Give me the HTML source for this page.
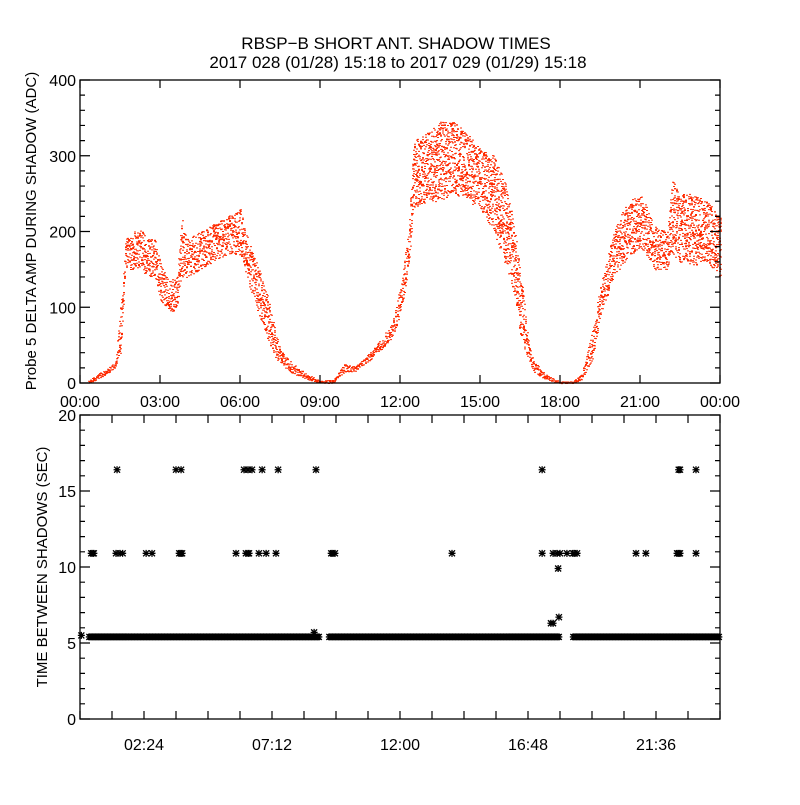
<!DOCTYPE html>
<html><head><meta charset="utf-8"><style>
html,body{margin:0;padding:0;background:#fff;}
svg text{font-family:"Liberation Sans",sans-serif;fill:#000;}
</style></head><body>
<svg id="c" width="800" height="800" xmlns="http://www.w3.org/2000/svg">
<rect width="800" height="800" fill="#fff"/>
<text x="396" y="49" font-size="17" text-anchor="middle">RBSP−B SHORT ANT. SHADOW TIMES</text>
<text x="398" y="68" font-size="17" text-anchor="middle">2017 028 (01/28) 15:18 to 2017 029 (01/29) 15:18</text>
<g id="topPanel"></g><g id="botPanel"></g>
</svg>
<script>
// ---- top panel data (envelope) ----
const ampHours=[0.3,0.5,1.0,1.3,1.5,1.7,2.0,2.3,2.5,2.8,3.0,3.3,3.6,3.8,4.0,4.5,5.0,5.5,6.0,6.2,6.5,7.0,7.3,7.5,8.0,8.5,9.0,9.5,9.9,10.3,10.7,11.3,11.7,12.0,12.3,12.5,13.0,13.5,14.0,14.5,15.0,15.5,16.0,16.3,16.5,16.8,17.0,17.5,18.0,18.5,18.8,19.2,19.5,20.0,20.5,21.0,21.3,21.5,22.0,22.2,22.5,23.0,23.5,24.0];
const ampLow=[0,3,12,20,40,150,150,150,140,140,110,95,95,140,140,150,160,170,170,140,110,60,35,25,12,5,0,0,15,15,25,45,60,90,150,230,240,240,250,240,230,200,150,110,60,30,15,3,0,0,5,30,90,140,165,180,165,150,150,170,160,155,160,140];
const ampHigh=[3,8,20,28,100,190,200,205,190,190,160,135,140,220,190,200,210,220,230,200,170,120,70,45,25,12,3,5,25,22,35,60,80,130,200,320,330,345,345,330,310,300,260,200,150,60,30,10,2,3,12,70,130,200,240,250,230,210,200,270,250,250,240,220];
const topTickLabels=["00:00","03:00","06:00","09:00","12:00","15:00","18:00","21:00","00:00"];
const topYTicks=[0,100,200,300,400];
// ---- bottom panel data ----
const t16=[1.39,3.6,3.79,6.15,6.3,6.45,6.83,7.43,8.85,17.33,22.45,22.5,23.1];
const t11=[0.42,0.48,0.52,1.35,1.5,1.6,2.48,2.7,3.72,3.78,3.83,5.85,6.22,6.3,6.34,6.71,6.98,7.35,9.42,9.48,9.56,13.95,17.33,17.74,17.89,18.0,18.26,18.49,18.55,18.64,20.85,21.22,22.39,22.45,22.5,23.1];
const oddT=[17.66,17.74,17.93,17.96,8.78,0.05];
const oddV=[6.3,6.3,9.9,6.7,5.7,5.5];
const bandStart=[0.35,9.35,18.5];
const bandEnd=[9.0,18.0,24.0];
const bandValue=5.4;
const botTickLabels=["02:24","07:12","12:00","16:48","21:36"];
const botYTicks=[0,5,10,15,20];

const NS="http://www.w3.org/2000/svg";
function mk(tag,attrs,parent){const e=document.createElementNS(NS,tag);for(const k in attrs)e.setAttribute(k,attrs[k]);parent.appendChild(e);return e;}
const L=80,R=720;
const xH=h=>L+(h/24)*(R-L);
const T0=80,T1=383;
const yA=v=>T1-(v/400)*(T1-T0);
const topG=document.getElementById('topPanel');
let seed=12345;function rnd(){seed=(Math.imul(seed,1664525)+1013904223)>>>0;return seed/4294967296;}
const dots=mk('g',{},topG);


function interp(arr,h){for(let i=0;i<ampHours.length-1;i++){if(h>=ampHours[i]&&h<=ampHours[i+1]){const f=(h-ampHours[i])/(ampHours[i+1]-ampHours[i]);return arr[i]+f*(arr[i+1]-arr[i]);}}return null;}
let path="";
for(let px=Math.ceil(xH(ampHours[0]));px<=xH(ampHours[ampHours.length-1]);px++){
  const h=(px-L)/(R-L)*24;const lo=interp(ampLow,h),hi=interp(ampHigh,h);if(lo===null)continue;
  const y1=yA(hi),y2=yA(lo);const span=Math.max(2,y2-y1);
  const n=Math.round(Math.min(span*0.18+2,30));
  for(let k=0;k<n;k++){const y=y1+rnd()*span;path+="M"+px+" "+y.toFixed(1)+"h2v1h-2z";}
}
mk('path',{d:path,fill:'#ff2a00'},dots);
const tb=mk('rect',{x:L,y:T0,width:R-L,height:T1-T0,fill:'none',stroke:'#000','stroke-width':1.3},topG);


let tk="";
for(let i=0;i<=8;i++){const x=xH(i*3);tk+="M"+x+" "+T1+"v-8M"+x+" "+T0+"v8";}
for(let v=0;v<=400;v+=20){const y=yA(v);const len=(v%100===0)?10:5;tk+="M"+L+" "+y+"h"+len+"M"+R+" "+y+"h-"+len;}
mk('path',{d:tk,stroke:'#000','stroke-width':1.2,fill:'none'},topG);
topTickLabels.forEach((s,i)=>{const t=mk('text',{x:xH(i*3),y:T1+24,'font-size':16,'text-anchor':'middle'},topG);t.textContent=s;

});
topYTicks.forEach(v=>{const t=mk('text',{x:L-4,y:yA(v)+6,'font-size':16,'text-anchor':'end'},topG);t.textContent=v;

});
const ty=mk('text',{x:0,y:0,'font-size':15,'text-anchor':'middle',transform:'translate(36,231) rotate(-90)'},topG);ty.textContent="Probe 5 DELTA AMP DURING SHADOW (ADC)";


// bottom
const B0=415,B1=719;
const yB=v=>B1-(v/20)*(B1-B0);
const botG=document.getElementById('botPanel');
function star(x,y){return "M"+(x-3.5)+" "+y+"h7M"+x+" "+(y-3.5)+"v7M"+(x-3)+" "+(y-3)+"l6 6M"+(x-3)+" "+(y+3)+"l6 -6";}
let sp="";
t16.forEach(h=>sp+=star(xH(h),yB(16.4)));
t11.forEach(h=>sp+=star(xH(h),yB(10.9)));
oddT.forEach((h,i)=>sp+=star(xH(oddT[i]),yB(oddV[i])));
const s1=mk('path',{d:sp,stroke:'#000','stroke-width':1.3,fill:'none'},botG);


let bp="";
bandStart.forEach((s,i)=>{for(let x=xH(s);x<=xH(bandEnd[i]);x+=1.5)bp+=star(x,yB(bandValue));});
const s2=mk('path',{d:bp,stroke:'#000','stroke-width':1.3,fill:'none'},botG);


const bb=mk('rect',{x:L,y:B0,width:R-L,height:B1-B0,fill:'none',stroke:'#000','stroke-width':1.3},botG);


let bk="";
for(let i=0;i<=20;i++){const x=L+i*32;bk+="M"+x+" "+B1+"v-8M"+x+" "+B0+"v8";}
for(let v=0;v<=20;v++){const y=yB(v);const len=(v%5===0)?10:5;bk+="M"+L+" "+y+"h"+len+"M"+R+" "+y+"h-"+len;}
mk('path',{d:bk,stroke:'#000','stroke-width':1.2,fill:'none'},botG);
botTickLabels.forEach((s,i)=>{const t=mk('text',{x:L+32*(2+4*i),y:B1+31,'font-size':16,'text-anchor':'middle'},botG);t.textContent=s;

});
botYTicks.forEach(v=>{const t=mk('text',{x:L-4,y:yB(v)+6,'font-size':16,'text-anchor':'end'},botG);t.textContent=v;

});
const by=mk('text',{x:0,y:0,'font-size':15,'text-anchor':'middle',transform:'translate(47,567) rotate(-90)'},botG);by.textContent="TIME BETWEEN SHADOWS (SEC)";


</script>
</body></html>
